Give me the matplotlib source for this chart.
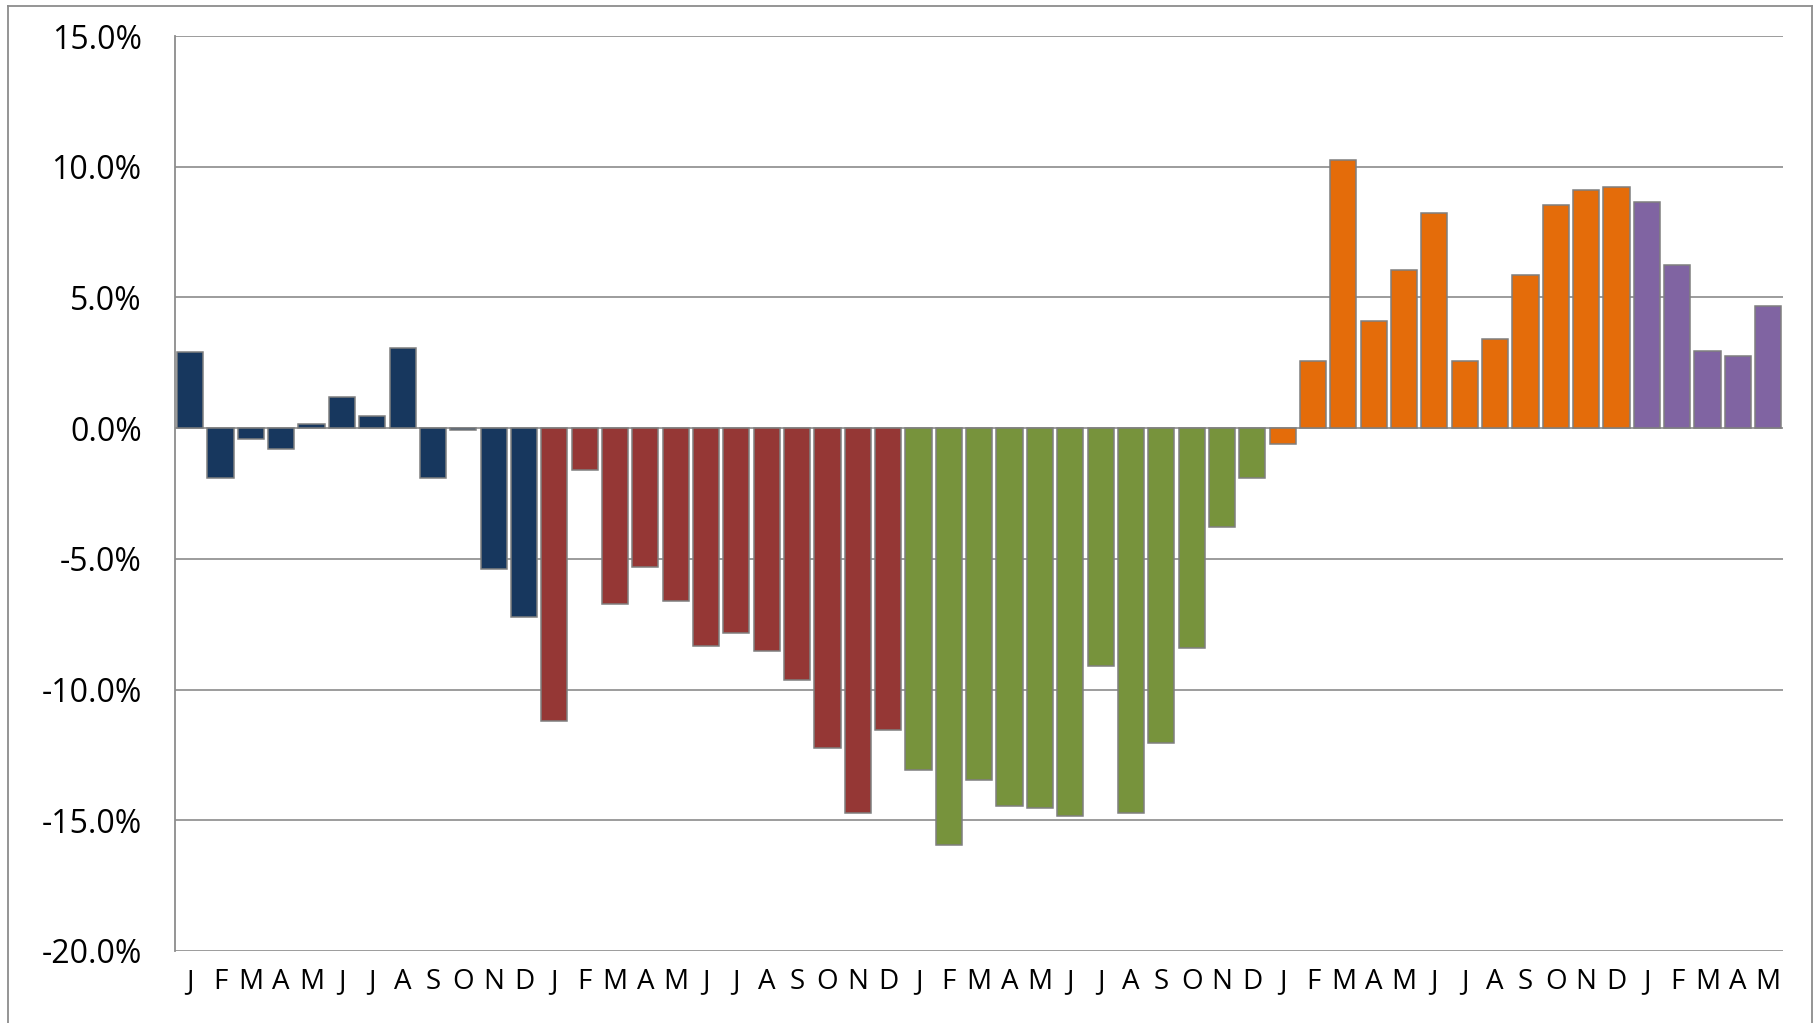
import numpy as np
import matplotlib.pyplot as plt
from matplotlib.lines import Line2D

plt.rcParams['font.family'] = ['Open Sans', 'DejaVu Sans']

# monthly % change, one list per year
year1 = [2.90, -1.92, -0.41, -0.80, 0.16, 1.18, 0.48, 3.08, -1.92, -0.09, -5.39, -7.24]
year2 = [-11.21, -1.62, -6.74, -5.33, -6.60, -8.34, -7.83, -8.53, -9.62, -12.23, -14.72, -11.53]
year3 = [-13.06, -15.94, -13.45, -14.47, -14.53, -14.85, -9.10, -14.72, -12.04, -8.40, -3.79, -1.92]
year4 = [-0.59, 2.57, 10.24, 4.10, 6.06, 8.23, 2.57, 3.41, 5.87, 8.54, 9.10, 9.24]
year5 = [8.66, 6.25, 2.95, 2.77, 4.67]

months = ["J", "F", "M", "A", "M", "J", "J", "A", "S", "O", "N", "D"]
year_colors = ["#17375E", "#953735", "#77933C", "#E46C0A", "#8064A2"]

years = [year1, year2, year3, year4, year5]
values = []
colors = []
labels = []
for vals, col in zip(years, year_colors):
    values += vals
    colors += [col] * len(vals)
    labels += months[:len(vals)]

x = np.arange(len(values))

fig = plt.figure(figsize=(18.15, 10.23), dpi=100)
ax = fig.add_axes([0.0964, 0.0704, 0.8862, 0.8944])

ax.bar(x, values, width=0.86, color=colors, edgecolor="#7F7F7F", linewidth=1.1, zorder=3)

ax.set_xlim(-0.5, len(values) - 0.5)
ax.set_ylim(-20, 15)
ax.set_yticks(np.arange(-20, 16, 5))
ax.set_yticklabels([f"{v:.1f}%" for v in np.arange(-20, 16, 5)])
ax.set_xticks(x)
ax.set_xticklabels(labels)

ax.grid(axis="y", color="#949494", linewidth=1.3)
ax.set_axisbelow(True)
ax.tick_params(axis="y", length=0, pad=24, labelsize=23)
ax.tick_params(axis="x", length=0, pad=12, labelsize=20)

for s in ["top", "right", "bottom"]:
    ax.spines[s].set_visible(False)
ax.spines["left"].set_color("#8C8C8C")
ax.spines["left"].set_linewidth(1.3)

# outer chart border
bx0, bx1, by1 = 0.0044, 0.9985, 0.9944
for xs, ys in [([bx0, bx0], [-0.01, by1]), ([bx0, bx1], [by1, by1]), ([bx1, bx1], [by1, -0.01])]:
    fig.add_artist(Line2D(xs, ys, transform=fig.transFigure, color="#8C8C8C", linewidth=1.3))

fig.savefig("out.png", dpi=100)
